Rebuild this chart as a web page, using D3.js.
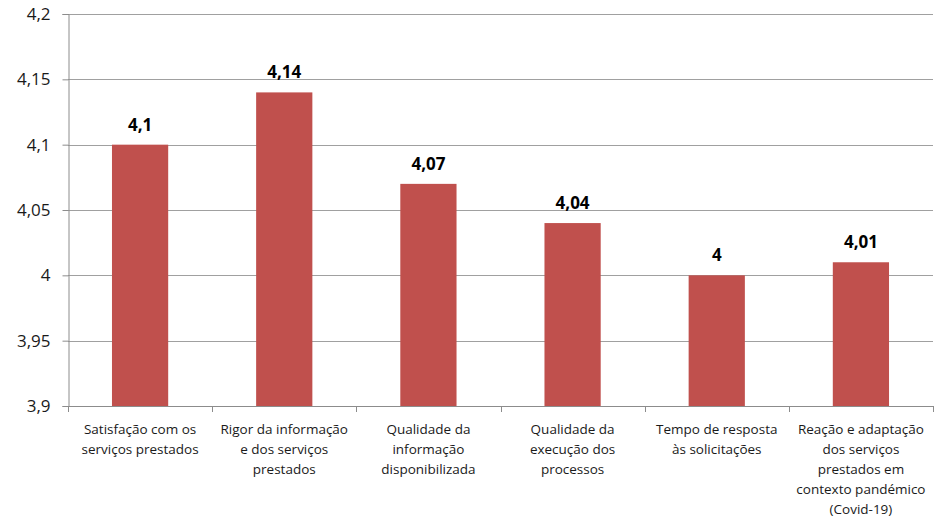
<!DOCTYPE html>
<html>
<head>
<meta charset="utf-8">
<script src="https://cdn.jsdelivr.net/npm/d3@7"></script>
<style>
  body { margin: 0; background: #fff; }
  svg { display: block; }
</style>
</head>
<body>
<svg width="935" height="523"></svg>
<script>
// categories (wrapped as in the original)
var categories = [
  ['Satisfação com os', 'serviços prestados'],
  ['Rigor da informação', 'e dos serviços', 'prestados'],
  ['Qualidade da', 'informação', 'disponibilizada'],
  ['Qualidade da', 'execução dos', 'processos'],
  ['Tempo de resposta', 'às solicitações'],
  ['Reação e adaptação', 'dos serviços', 'prestados em', 'contexto pandémico', '(Covid-19)']
];
var values = [4.1, 4.14, 4.07, 4.04, 4, 4.01];
var yTicks = [3.9, 3.95, 4, 4.05, 4.1, 4.15, 4.2];

var margin = {top: 14, right: 2, bottom: 117, left: 68};
var width = 935;
var height = 523;

var fmt = function(v) { return String(+v.toFixed(2)).replace('.', ','); };

var svg = d3.select('svg');

var xScale = d3.scaleBand()
  .domain(d3.range(categories.length))
  .range([margin.left, width - margin.right])
  .paddingInner(0.61)
  .paddingOuter(0.305);

var yScale = d3.scaleLinear()
  .domain([3.9, 4.2])
  .range([height - margin.bottom, margin.top]);

// gridlines
svg.append('g')
  .selectAll('line')
  .data(yTicks.slice(1))
  .enter().append('line')
  .attr('x1', margin.left)
  .attr('x2', width - margin.right)
  .attr('y1', d => Math.round(yScale(d)) + 0.5)
  .attr('y2', d => Math.round(yScale(d)) + 0.5)
  .attr('stroke', '#a0a0a0')
  .attr('stroke-width', 1);

// bars
svg.append('g')
  .selectAll('rect')
  .data(values)
  .enter().append('rect')
  .attr('x', (d, i) => xScale(i))
  .attr('width', xScale.bandwidth())
  .attr('y', d => yScale(d))
  .attr('height', d => yScale(3.9) - yScale(d))
  .attr('fill', '#C0504D');

// value labels
svg.append('g')
  .selectAll('text')
  .data(values)
  .enter().append('text')
  .attr('x', (d, i) => xScale(i) + xScale.bandwidth() / 2)
  .attr('y', d => yScale(d) - 14)
  .attr('text-anchor', 'middle')
  .attr('font-family', 'Open Sans, sans-serif')
  .attr('font-weight', 'bold')
  .attr('font-size', 17)
  .attr('fill', '#000')
  .text(d => fmt(d));

// y axis
var yAxis = d3.axisLeft(yScale)
  .tickValues(yTicks)
  .tickSize(6)
  .tickPadding(12)
  .tickFormat(fmt);

var gy = svg.append('g')
  .attr('transform', 'translate(' + [margin.left + 0.5, 0] + ')')
  .call(yAxis);
gy.select('.domain').attr('stroke', '#8c8c8c');
gy.selectAll('.tick line').attr('stroke', '#8c8c8c');
gy.selectAll('.tick text')
  .attr('font-family', 'Open Sans, sans-serif')
  .attr('font-size', 17)
  .attr('fill', '#1a1a1a');

// x axis line and category boundary ticks
var boundaries = d3.range(categories.length + 1).map(i => margin.left + i * xScale.step());
var gx = svg.append('g');
gx.append('line')
  .attr('x1', margin.left)
  .attr('x2', width - margin.right)
  .attr('y1', Math.round(yScale(3.9)) + 0.5)
  .attr('y2', Math.round(yScale(3.9)) + 0.5)
  .attr('stroke', '#8c8c8c');
gx.selectAll('line.tk')
  .data(boundaries)
  .enter().append('line')
  .attr('class', 'tk')
  .attr('x1', d => Math.round(d) + 0.5)
  .attr('x2', d => Math.round(d) + 0.5)
  .attr('y1', yScale(3.9))
  .attr('y2', yScale(3.9) + 6)
  .attr('stroke', '#8c8c8c');

// category labels
var labels = gx.selectAll('text.cat')
  .data(categories)
  .enter().append('text')
  .attr('class', 'cat')
  .attr('text-anchor', 'middle')
  .attr('font-family', 'Open Sans, sans-serif')
  .attr('font-size', 13.5)
  .attr('fill', '#1a1a1a')
  .attr('transform', (d, i) => 'translate(' + [xScale(i) + xScale.bandwidth() / 2, yScale(3.9) + 28] + ')');

labels.selectAll('tspan')
  .data(d => d)
  .enter().append('tspan')
  .attr('x', 0)
  .attr('y', (d, j) => j * 20)
  .text(d => d);
</script>
</body>
</html>
